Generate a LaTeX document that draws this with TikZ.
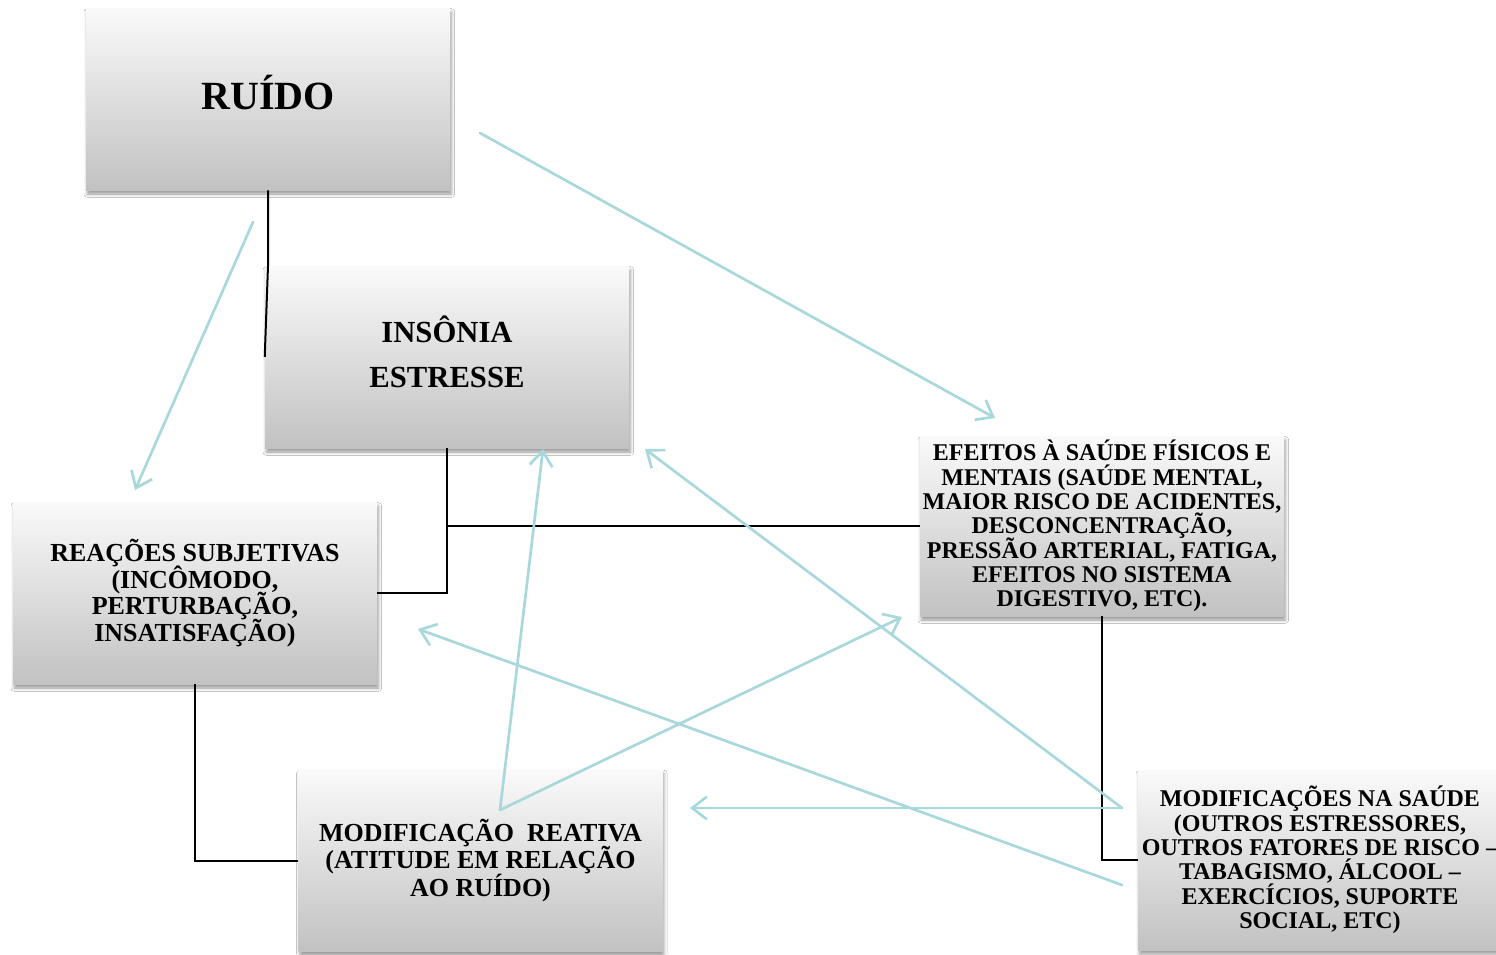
\documentclass[tikz,border=0pt]{standalone}
\usepackage{fontspec}
\setmainfont{Liberation Serif}
\usetikzlibrary{arrows.meta,shadows.blur}
\definecolor{flow}{RGB}{168,216,220}
\newcommand{\tightlines}{\lineskiplimit=-100pt\lineskip=0pt}
\begin{document}
\begin{tikzpicture}[x=0.75pt,y=-0.75pt,
  box/.style={rectangle, minimum width=273pt, minimum height=136.5pt,
    inner sep=0pt, align=center, top color=black!2, bottom color=black!24,
    blur shadow={shadow xshift=1pt, shadow yshift=-3pt,
      shadow blur radius=2.5pt, shadow opacity=40}},
  link/.style={line width=1.5pt, black},
  flowarrow/.style={draw=flow, line width=2pt, line cap=round,
    -{Straight Barb[length=11pt,width=17pt,line width=2pt]}}
]
\useasboundingbox (0,0) rectangle (1496,954);
\clip (0,0) rectangle (1496,954);
\fill[white] (0,0) rectangle (1496,954);

% boxes
\node[box, text depth=10.5pt, font=\bfseries\fontsize{30}{36}\selectfont] (ruido) at (268,99) {RUÍDO};
\node[box, text depth=7.5pt, font=\bfseries\fontsize{23}{34}\selectfont\tightlines] (ins) at (447,357) {INSÔNIA\\ESTRESSE};
\node[box, font=\bfseries\fontsize{19.5}{20}\selectfont\tightlines] (reac) at (195,593)
  {REAÇÕES SUBJETIVAS\\(INCÔMODO,\\PERTURBAÇÃO,\\INSATISFAÇÃO)};
\node[box, minimum height=135pt, font=\bfseries\fontsize{18}{18.2}\selectfont\tightlines] (efe) at (1102,526)
  {EFEITOS À SAÚDE FÍSICOS E\\MENTAIS (SAÚDE MENTAL,\\MAIOR RISCO DE ACIDENTES,\\DESCONCENTRAÇÃO,\\PRESSÃO ARTERIAL, FATIGA,\\EFEITOS NO SISTEMA\\DIGESTIVO, ETC).};
\node[box, font=\bfseries\fontsize{19.5}{20.6}\selectfont\tightlines] (mr) at (480.5,860.5)
  {MODIFICAÇÃO\ \ REATIVA\\(ATITUDE EM RELAÇÃO\\AO RUÍDO)};
\node[box, minimum height=135pt, font=\bfseries\fontsize{18}{18.3}\selectfont\tightlines] (ms) at (1320,860)
  {MODIFICAÇÕES NA SAÚDE\\(OUTROS ESTRESSORES,\\OUTROS FATORES DE RISCO –\\TABAGISMO, ÁLCOOL –\\EXERCÍCIOS, SUPORTE\\SOCIAL, ETC)};

% elbow connectors
\draw[link] (ruido.south) -- (ruido.south |- ins.north) -- (ins.west);
\draw[link] (ins.south) |- (reac.east);
\coordinate (junction) at (ins.south |- efe.west);
\draw[link] (junction) -- (efe.west);
\draw[link] (efe.south) |- (ms.west);
\draw[link] (reac.south) |- (mr.west);

% influence arrows
\coordinate (r1) at (253,222);   \coordinate (r1e) at (135,490);
\coordinate (r2) at (480,133);   \coordinate (r2e) at (995,418);
\coordinate (m1) at (500,810);   \coordinate (m1e) at (543,449);
                                 \coordinate (m2e) at (902,617);
\coordinate (s1) at (1122,808);  \coordinate (s1e) at (645,449);
                                 \coordinate (s2e) at (690,808);
\coordinate (s3) at (1122,885);  \coordinate (s3e) at (418,629);

\draw[flowarrow] (r1) -- (r1e);
\draw[flowarrow] (r2) -- (r2e);
\draw[flowarrow] (m1) -- (m1e);
\draw[flowarrow] (m1) -- (m2e);
\draw[flowarrow] (s1) -- (s1e);
\draw[flowarrow] (s1) -- (s2e);
\draw[flowarrow] (s3) -- (s3e);
\end{tikzpicture}
\end{document}
